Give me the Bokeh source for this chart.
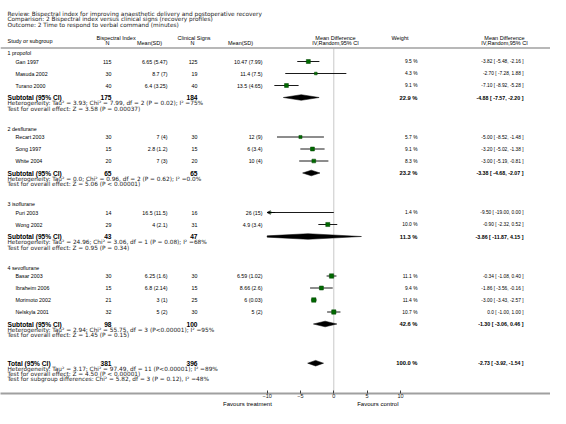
import numpy as np
from bokeh.plotting import figure
from bokeh.models import ColumnDataSource, Range1d, LinearAxis, FixedTicker, Span, Arrow, OpenHead
from bokeh.core.properties import value
from bokeh.embed import file_html
from bokeh.resources import INLINE

# ---------------- data ----------------
review = "Review:  Bispectral index for improving anaesthetic delivery and postoperative recovery"
comparison = "Comparison:  2 Bispectral index versus clinical signs (recovery profiles)"
outcome = "Outcome:  2 Time to respond to verbal command (minutes)"

subgroups = ["1 propofol", "2 desflurane", "3 isoflurane", "4 sevoflurane"]
study_group = [0, 0, 0, 1, 1, 1, 2, 2, 3, 3, 3, 3]
studies = ["Gan 1997", "Masuda 2002", "Turano 2000", "Recart 2003", "Song 1997", "White 2004",
           "Puri 2003", "Wong 2002", "Basar 2003", "Ibraheim 2006", "Morimoto 2002", "Nelskyla 2001"]
bis_n = [115, 30, 40, 30, 15, 20, 14, 29, 30, 15, 21, 32]
bis_mean = [6.65, 8.7, 6.4, 7, 2.8, 7, 16.5, 4, 6.25, 6.8, 3, 5]
bis_sd = [5.47, 7, 3.25, 4, 1.2, 3, 11.5, 2.1, 1.6, 2.14, 1, 2]
cs_n = [125, 19, 40, 30, 15, 20, 16, 31, 30, 15, 25, 30]
cs_mean = [10.47, 11.4, 13.5, 12, 6, 10, 26, 4.9, 6.59, 8.66, 6, 5]
cs_sd = [7.99, 7.5, 4.65, 9, 3.4, 4, 15, 3.4, 1.02, 2.6, 0.03, 2]
md = [-3.82, -2.70, -7.10, -5.00, -3.20, -3.00, -9.50, -0.90, -0.34, -1.86, -3.00, 0.0]
md_lo = [-5.48, -7.28, -8.92, -8.52, -5.02, -5.19, -19.00, -2.32, -1.08, -3.56, -3.43, -1.00]
md_hi = [-2.16, 1.88, -5.28, -1.48, -1.38, -0.81, 0.00, 0.52, 0.40, -0.16, -2.57, 1.00]
weight = [9.5, 4.3, 9.1, 5.7, 9.1, 8.3, 1.4, 10.0, 11.1, 9.4, 11.4, 10.7]

sub_bis_n = [175, 65, 43, 98]
sub_cs_n = [184, 65, 47, 100]
sub_md = [-4.88, -3.38, -3.86, -1.30]
sub_lo = [-7.57, -4.68, -11.87, -3.06]
sub_hi = [-2.20, -2.07, 4.15, 0.46]
sub_weight = [22.9, 23.2, 11.3, 42.6]
sub_het = ["Heterogeneity: Tau\u00b2 = 3.93; Chi\u00b2 = 7.99, df = 2 (P = 0.02); I\u00b2 =75%",
           "Heterogeneity: Tau\u00b2 = 0.0; Chi\u00b2 = 0.96, df = 2 (P = 0.62); I\u00b2 =0.0%",
           "Heterogeneity: Tau\u00b2 = 24.96; Chi\u00b2 = 3.06, df = 1 (P = 0.08); I\u00b2 =68%",
           "Heterogeneity: Tau\u00b2 = 2.94; Chi\u00b2 = 55.75, df = 3 (P<0.00001); I\u00b2 =95%"]
sub_test = ["Test for overall effect: Z = 3.58 (P = 0.00037)",
            "Test for overall effect: Z = 5.06 (P < 0.00001)",
            "Test for overall effect: Z = 0.95 (P = 0.34)",
            "Test for overall effect: Z = 1.45 (P = 0.15)"]

total_bis_n = 381
total_cs_n = 396
total_md = -2.73
total_lo = -3.92
total_hi = -1.54
total_weight = 100.0
total_notes = ["Heterogeneity: Tau\u00b2 = 3.17; Chi\u00b2 = 97.49, df = 11 (P<0.00001); I\u00b2 =89%",
               "Test for overall effect: Z = 4.50 (P < 0.00001)",
               "Test for subgroup differences: Chi\u00b2 = 5.82, df = 3 (P = 0.12), I\u00b2 =48%"]

ticks = [-10, -5, 0, 5, 10]
favours = ["Favours treatment", "Favours control"]

# ---------------- layout constants ----------------
FONT = "Liberation Sans"
NOTE_FONT = "DejaVu Sans"
X_LABEL, X_STUDY = 7, 15
X_BN, X_BM, X_CN, X_CM, X_W, X_CI = 111, 167, 197, 262, 417, 523
ZERO_PX, PX_PER_UNIT = 333.3, 6.667
LEFT, RIGHT, TOP, BOTTOM = 0, 550, 0, 393
LIM = 10
FAVOURS_POS = [-12.95, 6.6]   # label centres, in axis units

# vertical layout (pixel rows)
label_y, study_y, sub_y, het_y, test_y = [], [], [], [], []
y = 52.5
for g in range(len(subgroups)):
    label_y.append(y)
    n = study_group.count(g)
    for i in range(n):
        study_y.append(y + 8.5 + 12 * i)
    sy = y + 8.5 + 12 * n
    sub_y.append(sy)
    het_y.append(sy + 5.6)
    test_y.append(sy + 11.2)
    y = sy + 11 + 20
total_y = test_y[-1] + 28
total_note_y = [total_y + 5.3 * (i + 1) for i in range(len(total_notes))]

p = figure(frame_width=RIGHT - LEFT, frame_height=BOTTOM - TOP,
           x_range=Range1d(LEFT, RIGHT), y_range=Range1d(BOTTOM, TOP),
           x_axis_type=None, y_axis_type=None,
           min_border_left=0, min_border_right=0, min_border_top=0, min_border_bottom=15,
           toolbar_location=None, output_backend="svg")
p.extra_x_ranges = {"md": Range1d((LEFT - ZERO_PX) / PX_PER_UNIT, (RIGHT - ZERO_PX) / PX_PER_UNIT)}
p.outline_line_color = None
p.xgrid.visible = False
p.ygrid.visible = False
p.background_fill_color = "white"
p.border_fill_color = "white"


def txt(xs, ys, texts, size, align="left", bold=False, rng=None, color="#000000", font=FONT):
    src = ColumnDataSource(dict(x=list(xs), y=list(ys), t=list(texts)))
    kw = dict(x="x", y="y", text="t", source=src, text_font=value(font),
              text_font_size=value(size), text_align=align, text_baseline="middle",
              text_color=color, text_font_style="bold" if bold else "normal")
    if rng:
        kw["x_range_name"] = rng
    p.text(**kw)


def fmt_md(m, lo, hi):
    ms = "0.0" if m == 0 else f"{m:.2f}"
    return f"{ms} [ {lo:.2f}, {hi:.2f} ]"


SMALL = "5.3px"
NOTE = "5.8px"
HEAD = "5.5px"
BOLD = "6.6px"
NOTE_COLOR = "#1a1a1a"

# header texts
txt([X_LABEL] * 3, [13, 18.5, 24], [review, comparison, outcome], NOTE, color=NOTE_COLOR, font=NOTE_FONT)
txt([X_LABEL], [40], ["Study or subgroup"], HEAD)
txt([96, 177, 391], [37.5, 37.5, 37.5], ["Bispectral Index", "Clinical Signs", "Weight"], HEAD)
txt([X_BN - 4, X_BM - 18, X_CN - 5, X_CM - 22], [42.5] * 4, ["N", "Mean(SD)", "N", "Mean(SD)"], HEAD, align="center")
txt([335, 504], [37.5, 37.5], ["Mean Difference", "Mean Difference"], HEAD, align="center")
txt([335, 504], [42.5, 42.5], ["IV,Random,95% CI", "IV,Random,95% CI"], HEAD, align="center")

p.add_layout(Span(location=47.5, dimension="width", line_color="#a0a0a0", line_width=1.5))

# zero line
p.segment(x0=[0], y0=[48], x1=[0], y1=[BOTTOM], x_range_name="md", line_color="#c8c8c8", line_width=1)

# subgroup labels and study rows
txt([X_LABEL] * len(subgroups), label_y, subgroups, SMALL)
txt([X_STUDY] * len(studies), study_y, studies, SMALL)
txt([X_BN] * len(studies), study_y, [str(v) for v in bis_n], SMALL, align="right")
txt([X_BM] * len(studies), study_y, [f"{m:g} ({s:g})" for m, s in zip(bis_mean, bis_sd)], SMALL, align="right")
txt([X_CN] * len(studies), study_y, [str(v) for v in cs_n], SMALL, align="right")
txt([X_CM] * len(studies), study_y, [f"{m:g} ({s:g})" for m, s in zip(cs_mean, cs_sd)], SMALL, align="right")
txt([X_W] * len(studies), study_y, [f"{w:.1f} %" for w in weight], "4.9px", align="right")
txt([X_CI] * len(studies), study_y, [fmt_md(m, l, h) for m, l, h in zip(md, md_lo, md_hi)], "4.8px", align="right")

# subtotal rows
txt([X_LABEL] * 4, sub_y, ["Subtotal (95% CI)"] * 4, BOLD, bold=True)
txt([X_BN] * 4, sub_y, [str(v) for v in sub_bis_n], BOLD, align="right", bold=True)
txt([X_CN] * 4, sub_y, [str(v) for v in sub_cs_n], BOLD, align="right", bold=True)
txt([X_W] * 4, sub_y, [f"{w:.1f} %" for w in sub_weight], "5.8px", align="right", bold=True)
txt([X_CI] * 4, sub_y, [fmt_md(m, l, h) for m, l, h in zip(sub_md, sub_lo, sub_hi)], "5.3px", align="right", bold=True)
txt([X_LABEL] * 4, het_y, sub_het, NOTE, color=NOTE_COLOR, font=NOTE_FONT)
txt([X_LABEL] * 4, test_y, sub_test, NOTE, color=NOTE_COLOR, font=NOTE_FONT)

# total row
txt([X_LABEL], [total_y], ["Total (95% CI)"], BOLD, bold=True)
txt([X_BN], [total_y], [str(total_bis_n)], BOLD, align="right", bold=True)
txt([X_CN], [total_y], [str(total_cs_n)], BOLD, align="right", bold=True)
txt([X_W], [total_y], [f"{total_weight:.1f} %"], "5.8px", align="right", bold=True)
txt([X_CI], [total_y], [fmt_md(total_md, total_lo, total_hi)], "5.1px", align="right", bold=True)
txt([X_LABEL] * 3, total_note_y, total_notes, NOTE, color=NOTE_COLOR, font=NOTE_FONT)

# confidence interval lines (clipped to axis limits) and arrows
lo_a, hi_a = np.array(md_lo), np.array(md_hi)
p.segment(x0=np.clip(lo_a, -LIM, LIM), y0=study_y, x1=np.clip(hi_a, -LIM, LIM), y1=study_y,
          x_range_name="md", line_color="black", line_width=0.9)
for yy, lo, hi in zip(study_y, md_lo, md_hi):
    if lo < -LIM:
        p.add_layout(Arrow(end=OpenHead(size=3.5, line_width=0.9), x_start=-LIM + 1.2, y_start=yy,
                           x_end=-LIM, y_end=yy, line_width=0.9, x_range_name="md"))
    if hi > LIM:
        p.add_layout(Arrow(end=OpenHead(size=3.5, line_width=0.9), x_start=LIM - 1.2, y_start=yy,
                           x_end=LIM, y_end=yy, line_width=0.9, x_range_name="md"))

# study squares, area proportional to weight
p.scatter(x=md, y=study_y, size=list(1.3 * np.sqrt(np.array(weight))), marker="square",
          x_range_name="md", fill_color="#006a00", line_color="#004400", line_width=0.5)


# diamonds (subtotals and total)
def diamond(m, lo, hi, yy, h=2.8):
    pts_x, pts_y = [], []
    if lo < -LIM:
        f = (-LIM - lo) / (m - lo)
        pts_x += [-LIM, -LIM]
        pts_y += [yy + h * f, yy - h * f]
    else:
        pts_x.append(lo)
        pts_y.append(yy)
    pts_x.append(m)
    pts_y.append(yy - h)
    if hi > LIM:
        f = (hi - LIM) / (hi - m)
        pts_x += [LIM, LIM]
        pts_y += [yy - h * f, yy + h * f]
    else:
        pts_x.append(hi)
        pts_y.append(yy)
    pts_x.append(m)
    pts_y.append(yy + h)
    return pts_x, pts_y


dxs, dys = [], []
for m, lo, hi, yy in zip(sub_md + [total_md], sub_lo + [total_lo], sub_hi + [total_hi], sub_y + [total_y]):
    a, b = diamond(m, lo, hi, yy)
    dxs.append(a)
    dys.append(b)
p.patches(xs=dxs, ys=dys, x_range_name="md", fill_color="black", line_color="black", line_width=0.5)

# numeric axis
ax = LinearAxis(x_range_name="md", ticker=FixedTicker(ticks=ticks))
ax.axis_line_color = "#a0a0a0"
ax.axis_line_width = 2
ax.major_tick_in = 3
ax.major_tick_out = 0
ax.major_tick_line_color = "#404040"
ax.minor_tick_line_color = None
ax.major_label_text_font_size = "5.5px"
ax.major_label_text_font = FONT
ax.major_label_text_color = "#202020"
ax.major_label_standoff = 0
p.add_layout(ax, "below")

# "Favours" captions as a second, line-less axis under the first
fav = LinearAxis(x_range_name="md", ticker=FixedTicker(ticks=FAVOURS_POS))
fav.major_label_overrides = {FAVOURS_POS[0]: favours[0], FAVOURS_POS[1]: favours[1]}
fav.axis_line_color = None
fav.major_tick_line_color = None
fav.minor_tick_line_color = None
fav.major_tick_in = 0
fav.major_tick_out = 0
fav.major_label_standoff = 0
fav.major_label_text_font_size = "6px"
fav.major_label_text_font = FONT
fav.major_label_text_color = "#000000"
p.add_layout(fav, "below")

open("out.html", "w").write(file_html(p, INLINE))
